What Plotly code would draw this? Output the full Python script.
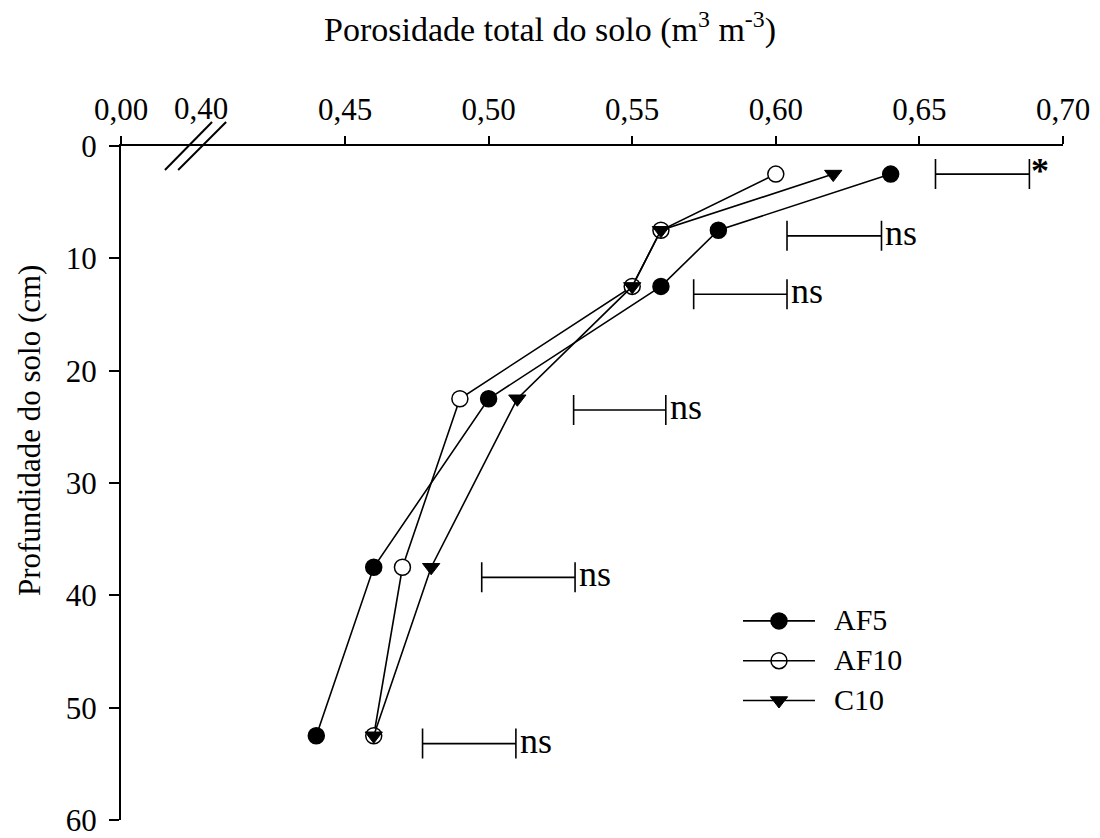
import plotly.graph_objects as go

# Soil depth (cm) of each sampled layer midpoint
depth = [2.5, 7.5, 12.5, 22.5, 37.5, 52.5]

# Total soil porosity (m3 m-3) per treatment
af5 = [0.64, 0.58, 0.56, 0.50, 0.46, 0.44]
af10 = [0.60, 0.56, 0.55, 0.49, 0.47, 0.46]
c10 = [0.62, 0.56, 0.55, 0.51, 0.48, 0.46]

# Least significant difference bars for each layer
lsd_depth = [2.5, 8.0, 13.2, 23.5, 38.4, 53.2]
lsd_left = [0.6556, 0.6039, 0.5714, 0.5296, 0.4976, 0.4770]
lsd_right = [0.6883, 0.6368, 0.6039, 0.5617, 0.5301, 0.5095]
lsd_label = ["*", "ns", "ns", "ns", "ns", "ns"]

# Axis ticks
x_tick_vals = [0.45, 0.50, 0.55, 0.60, 0.65, 0.70]
x_tick_text = ["0,45", "0,50", "0,55", "0,60", "0,65", "0,70"]
y_tick_vals = [0, 10, 20, 30, 40, 50, 60]

# The x axis is broken between 0,00 and 0,40: that stretch is squeezed
# into a short piece at the left end of the axis.
BREAK_AT = 0.40
AXIS_START = 0.372   # where the "0,00" origin sits on the axis
X_END = 0.70

FONT = "Liberation Serif"
BLACK = "black"

fig = go.Figure()

series = [
    ("AF5", af5, dict(symbol="circle", size=16, color=BLACK,
                      line=dict(color=BLACK, width=1.5))),
    ("AF10", af10, dict(symbol="circle", size=16, color="white",
                        line=dict(color=BLACK, width=1.5))),
    ("C10", c10, dict(symbol="triangle-down", size=15, color=BLACK,
                      line=dict(color=BLACK, width=1))),
]
for name, vals, marker in series:
    fig.add_trace(go.Scatter(
        x=vals, y=depth, name=name, mode="lines+markers",
        line=dict(color=BLACK, width=1.6), marker=marker,
        cliponaxis=False, showlegend=False,
    ))

# LSD bars drawn as horizontal error bars around their centres
centres = [(l + r) / 2 for l, r in zip(lsd_left, lsd_right)]
halves = [(r - l) / 2 for l, r in zip(lsd_left, lsd_right)]
fig.add_trace(go.Scatter(
    x=centres, y=lsd_depth, mode="markers", showlegend=False,
    marker=dict(size=1, opacity=0),
    error_x=dict(type="data", array=halves, symmetric=True,
                 thickness=1.6, width=15, color=BLACK),
    hoverinfo="skip",
))

annotations = []
for r, d, lab in zip(lsd_right, lsd_depth, lsd_label):
    star = lab == "*"
    annotations.append(dict(
        x=r, y=d, xref="x", yref="y", text=f"<b>{lab}</b>" if star else lab,
        showarrow=False, xanchor="left", yanchor="middle",
        xshift=0 if star else 2, yshift=3,
        font=dict(family=FONT, size=36, color=BLACK),
    ))

# Legend: long line sample with the marker in the middle, label to the right
LEG_X0, LEG_X1, LEG_MX, LEG_TX = 0.6603, 0.7367, 0.6985, 0.7545
LEG_Y = [0.2954, 0.2363, 0.1773]
shapes = []
for (name, _, marker), ly in zip(series, LEG_Y):
    shapes.append(dict(
        type="line", xref="paper", yref="paper",
        x0=LEG_X0, x1=LEG_X1, y0=ly, y1=ly,
        line=dict(color=BLACK, width=1.6),
    ))
    fig.add_trace(go.Scatter(
        x=[LEG_MX], y=[ly], xaxis="x2", yaxis="y2", mode="markers",
        marker=marker, showlegend=False, hoverinfo="skip",
    ))
    annotations.append(dict(
        x=LEG_TX, y=ly, xref="paper", yref="paper", text=name,
        showarrow=False, xanchor="left", yanchor="middle", yshift=1,
        font=dict(family=FONT, size=30, color=BLACK),
    ))

# Label of the first value after the break
annotations.append(dict(
    x=BREAK_AT, y=1, xref="x", yref="paper", text="0,40",
    showarrow=False, xanchor="center", yanchor="bottom", yshift=18,
    font=dict(family=FONT, size=31, color=BLACK),
))

# Axis titles
annotations.append(dict(
    x=0.455, y=1.176, xref="paper", yref="paper",
    text="Porosidade total do solo (m<sup>3</sup> m<sup>-3</sup>)",
    showarrow=False, xanchor="center", yanchor="middle",
    font=dict(family=FONT, size=34, color=BLACK),
))
annotations.append(dict(
    x=-0.097, y=0.578, xref="paper", yref="paper",
    text="Profundidade do solo (cm)", textangle=-90,
    showarrow=False, xanchor="center", yanchor="middle",
    font=dict(family=FONT, size=31, color=BLACK),
))

# Break marks "//" across the x axis
for x0, x1 in [(0.3873, 0.4037), (0.3919, 0.4086)]:
    shapes.append(dict(
        type="line", xref="x", yref="paper",
        x0=x0, x1=x1, y0=0.9645, y1=1.0355,
        line=dict(color=BLACK, width=2),
    ))

fig.update_layout(
    width=1100, height=838,
    margin=dict(l=121, r=37, t=146, b=18),
    paper_bgcolor="white", plot_bgcolor="white",
    font=dict(family=FONT, size=31, color=BLACK),
    annotations=annotations, shapes=shapes,
    showlegend=False,
    xaxis=dict(
        side="top", range=[AXIS_START, X_END], automargin=False,
        tickvals=[AXIS_START] + x_tick_vals,
        ticktext=["0,00"] + x_tick_text,
        ticks="outside", ticklen=8, tickwidth=2, tickcolor=BLACK,
        showline=True, linewidth=2, linecolor=BLACK,
        showgrid=False, zeroline=False, ticklabelstandoff=4,
        tickfont=dict(family=FONT, size=31, color=BLACK),
    ),
    yaxis=dict(
        range=[60, 0], tickvals=y_tick_vals, automargin=False,
        ticks="outside", ticklen=10, tickwidth=2, tickcolor=BLACK,
        showline=True, linewidth=2, linecolor=BLACK,
        showgrid=False, zeroline=False,
        tickfont=dict(family=FONT, size=31, color=BLACK),
        ticklabelstandoff=6, ticklabeloverflow="allow",
    ),
    xaxis2=dict(overlaying="x", range=[0, 1], visible=False,
                anchor="y2", automargin=False),
    yaxis2=dict(overlaying="y", range=[0, 1], visible=False,
                anchor="x2", automargin=False),
)

fig.write_html("out.html")
